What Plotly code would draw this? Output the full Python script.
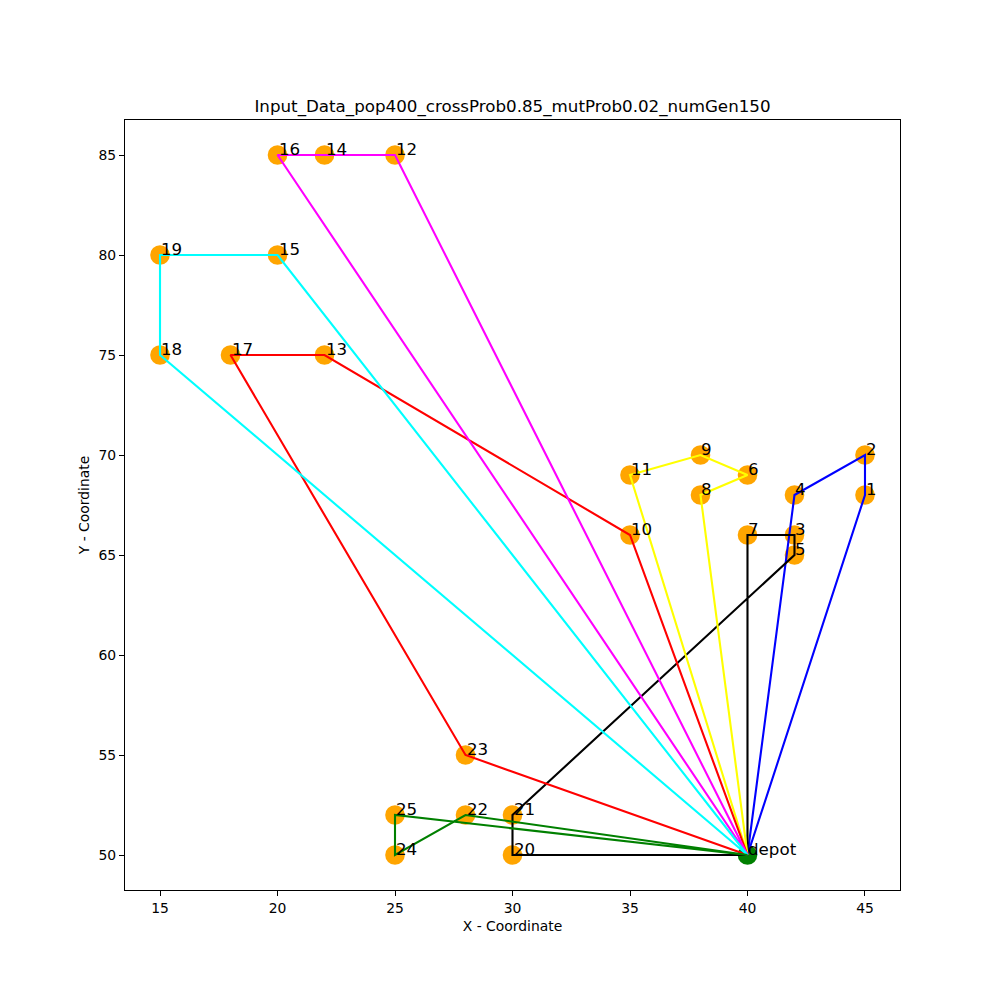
import plotly.graph_objects as go

# node coordinates (index 0 = depot)
node_names = ['depot'] + [str(i) for i in range(1, 26)]
node_x = [40, 45, 45, 42, 42, 42, 40, 40, 38, 38, 35, 35, 25, 22, 22, 20, 20, 18, 15, 15, 30, 30, 28, 28, 25, 25]
node_y = [50, 68, 70, 66, 68, 65, 69, 66, 68, 70, 66, 69, 85, 75, 85, 80, 85, 75, 75, 80, 50, 52, 52, 55, 50, 52]

# vehicle routes
routes = [
    [0, 1, 2, 4, 0],
    [0, 7, 3, 5, 21, 20, 0],
    [0, 11, 9, 6, 8, 0],
    [0, 10, 13, 17, 23, 0],
    [0, 16, 14, 12, 0],
    [0, 15, 19, 18, 0],
    [0, 25, 24, 22, 0],
]
route_colors = ['blue', 'black', 'yellow', 'red', 'magenta', 'cyan', 'green']

FONT = 'DejaVu Sans'

fig = go.Figure()

fig.add_trace(go.Scatter(
    x=node_x[1:], y=node_y[1:], mode='markers',
    marker=dict(size=19.6, color='orange', line=dict(width=0)),
    hoverinfo='skip',
))
fig.add_trace(go.Scatter(
    x=node_x[:1], y=node_y[:1], mode='markers',
    marker=dict(size=19.6, color='green', line=dict(width=0)),
    hoverinfo='skip',
))

for r, c in zip(routes, route_colors):
    fig.add_trace(go.Scatter(
        x=[node_x[i] for i in r], y=[node_y[i] for i in r],
        mode='lines', line=dict(color=c, width=2.1),
        hoverinfo='skip',
    ))

annotations = []
for name, x, y in zip(node_names, node_x, node_y):
    annotations.append(dict(
        x=x, y=y, xref='x', yref='y', text=name, showarrow=False,
        xanchor='left', yanchor='bottom', xshift=-1, yshift=-6,
        font=dict(family=FONT, size=16.7, color='black'),
    ))

axis_common = dict(
    showgrid=False, zeroline=False, showline=True, linecolor='black', linewidth=1,
    mirror=True, ticks='outside', ticklen=5, tickwidth=1, tickcolor='black',
    tickfont=dict(family=FONT, size=13.9, color='black'),
)

# page body has an 8px margin, so the plot box is nudged up/left to compensate
fig.update_layout(
    width=1000, height=1000,
    margin=dict(l=117, r=108, t=112, b=118),
    paper_bgcolor='white', plot_bgcolor='white',
    showlegend=False,
    font=dict(family=FONT, color='black'),
    title=dict(
        text='Input_Data_pop400_crossProb0.85_mutProb0.02_numGen150',
        x=0.5045, xanchor='center', y=0.902, yref='container', yanchor='middle',
        font=dict(family=FONT, size=16.7, color='black'),
    ),
    xaxis=dict(axis_common, range=[13.51, 46.49], tickvals=[15, 20, 25, 30, 35, 40, 45],
               title=dict(text='X - Coordinate', standoff=6, font=dict(family=FONT, size=13.9))),
    yaxis=dict(axis_common, range=[48.25, 86.75], tickvals=[50, 55, 60, 65, 70, 75, 80, 85],
               title=dict(text='Y - Coordinate', standoff=5, font=dict(family=FONT, size=13.9))),
    annotations=annotations,
)

fig.write_html('out.html')
